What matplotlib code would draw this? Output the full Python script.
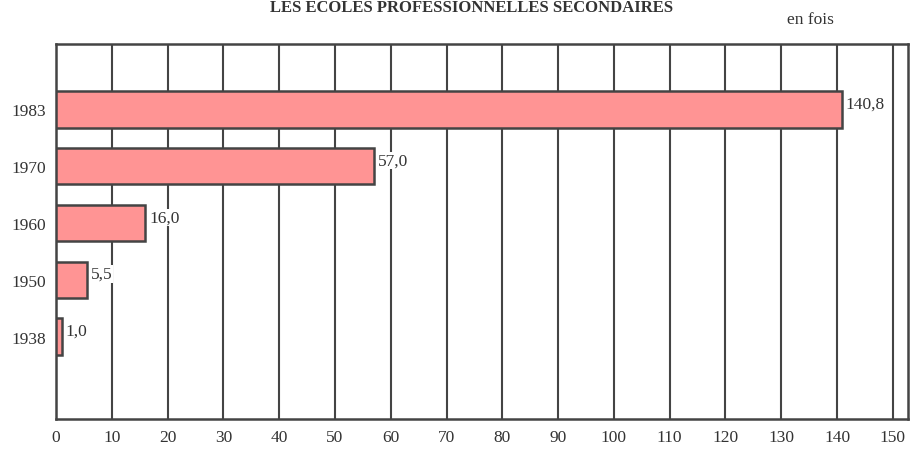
import matplotlib.pyplot as plt
import numpy as np

## data
years = ['1938', '1950', '1960', '1970', '1983']
values = [1.0, 5.5, 16.0, 57.0, 140.8]
value_labels = ['1,0', '5,5', '16,0', '57,0', '140,8']
xticks = list(range(0, 151, 10))

plt.rcParams['font.family'] = ['Liberation Serif', 'DejaVu Serif']

fig = plt.figure(figsize=(9.16, 4.52), dpi=100)
ax = fig.add_axes([0.0611, 0.0708, 0.9301, 0.8297])

ypos = np.arange(len(years))
ax.barh(ypos, values, height=0.64, color='#ff9494', edgecolor='#444444',
        linewidth=1.8, zorder=3)

## value labels right of each bar (white box hides the grid line behind)
for y, v, lab in zip(ypos, values, value_labels):
    ax.text(v + 0.7, y + 0.1, lab, va='center', ha='left', fontsize=12.5,
            color='#333333', zorder=4,
            bbox=dict(facecolor='white', edgecolor='none', pad=0.5))

## vertical grid lines
for x in xticks[1:]:
    ax.axvline(x, color='#444444', linewidth=1.5, zorder=1)

ax.set_xlim(0, 152.7)
ax.set_ylim(-1.45, 5.15)
ax.set_yticks(ypos)
ax.set_yticklabels(years, fontsize=12.5, color='#333333')
ax.set_xticks(xticks)
ax.set_xticklabels([str(x) for x in xticks], fontsize=12.5, color='#333333')
ax.tick_params(length=0, pad=7)

for s in ax.spines.values():
    s.set_color('#444444')
    s.set_linewidth(1.8)

fig.text(0.515, 0.982, 'LES ÉCOLES PROFESSIONNELLES SECONDAIRES',
         ha='center', va='center', fontsize=12, fontweight='bold', color='#333333')
fig.text(0.885, 0.955, 'en fois', ha='center', va='center', fontsize=12.5,
         color='#333333')

plt.savefig('out.png', dpi=100)
